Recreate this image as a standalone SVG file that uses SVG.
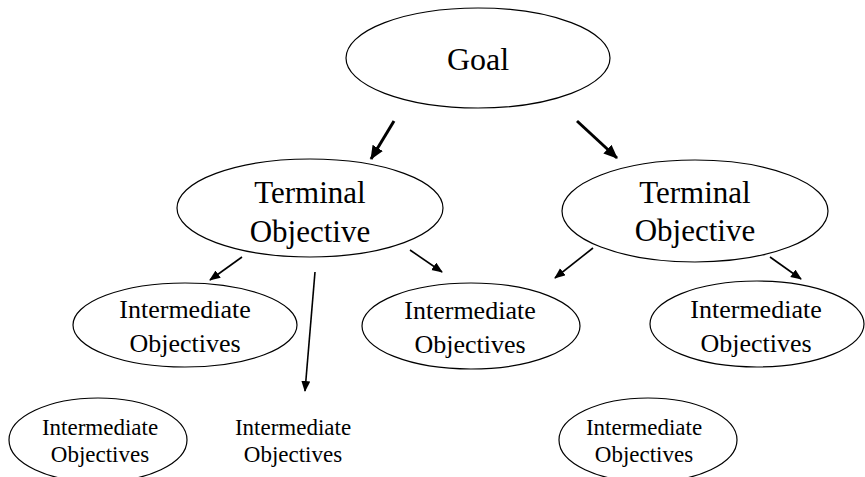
<svg xmlns="http://www.w3.org/2000/svg" width="865" height="477" viewBox="0 0 865 477">
<style>
.node ellipse{fill:#fff;stroke:#000;stroke-width:1.2}
text{font-family:"Liberation Serif","Times New Roman",serif;fill:#000;text-anchor:middle}
.t1{font-size:32px}
.t2{font-size:31px}
.t3{font-size:26px}
.t4{font-size:23px}
.thick{stroke:#000;stroke-width:3;fill:none}
.thin{stroke:#000;stroke-width:1.6;fill:none}
</style>
<defs>
<marker id="ah" markerUnits="userSpaceOnUse" markerWidth="16" markerHeight="14" refX="13" refY="6" orient="auto">
<path d="M0,0 L14,6 L0,12 z" fill="#000"/>
</marker>
<marker id="as" markerUnits="userSpaceOnUse" markerWidth="12" markerHeight="10" refX="10" refY="4.5" orient="auto">
<path d="M0,0 L11,4.5 L0,9 z" fill="#000"/>
</marker>
</defs>
<g id="goal" class="node">
<ellipse cx="478" cy="58" rx="132" ry="50"/>
<text class="t1" x="478" y="70">Goal</text>
</g>
<g id="terminal-left" class="node">
<ellipse cx="310" cy="208" rx="133" ry="49"/>
<text class="t2" x="310" y="203">Terminal</text>
<text class="t2" x="310" y="242">Objective</text>
</g>
<g id="terminal-right" class="node">
<ellipse cx="695" cy="211" rx="133" ry="51"/>
<text class="t2" x="695" y="203">Terminal</text>
<text class="t2" x="695" y="241">Objective</text>
</g>
<g id="inter-left" class="node">
<ellipse cx="185" cy="325" rx="112" ry="42"/>
<text class="t3" x="185" y="318">Intermediate</text>
<text class="t3" x="185" y="352">Objectives</text>
</g>
<g id="inter-mid" class="node">
<ellipse cx="471" cy="326" rx="109" ry="43"/>
<text class="t3" x="470" y="319">Intermediate</text>
<text class="t3" x="470" y="353">Objectives</text>
</g>
<g id="inter-right" class="node">
<ellipse cx="757" cy="324" rx="107" ry="43"/>
<text class="t3" x="756" y="318">Intermediate</text>
<text class="t3" x="756" y="352">Objectives</text>
</g>
<g id="bottom-left" class="node">
<ellipse cx="98" cy="440" rx="89" ry="42"/>
<text class="t4" x="100" y="435">Intermediate</text>
<text class="t4" x="100" y="462">Objectives</text>
</g>
<g id="bottom-mid" class="node">
<text class="t4" x="293" y="435">Intermediate</text>
<text class="t4" x="293" y="462">Objectives</text>
</g>
<g id="bottom-right" class="node">
<ellipse cx="648" cy="440" rx="89" ry="42"/>
<text class="t4" x="644" y="435">Intermediate</text>
<text class="t4" x="644" y="462">Objectives</text>
</g>
<g id="connectors">
<line class="thick" x1="394" y1="121" x2="371" y2="159" marker-end="url(#ah)"/>
<line class="thick" x1="577" y1="121" x2="617" y2="158" marker-end="url(#ah)"/>
<line class="thin" x1="242" y1="257" x2="210" y2="280" marker-end="url(#as)"/>
<line class="thin" x1="410" y1="250" x2="442" y2="272" marker-end="url(#as)"/>
<line class="thin" x1="315" y1="272" x2="305" y2="391" marker-end="url(#as)"/>
<line class="thin" x1="593" y1="248" x2="555" y2="278" marker-end="url(#as)"/>
<line class="thin" x1="770" y1="257" x2="801" y2="279" marker-end="url(#as)"/>
</g>
</svg>
